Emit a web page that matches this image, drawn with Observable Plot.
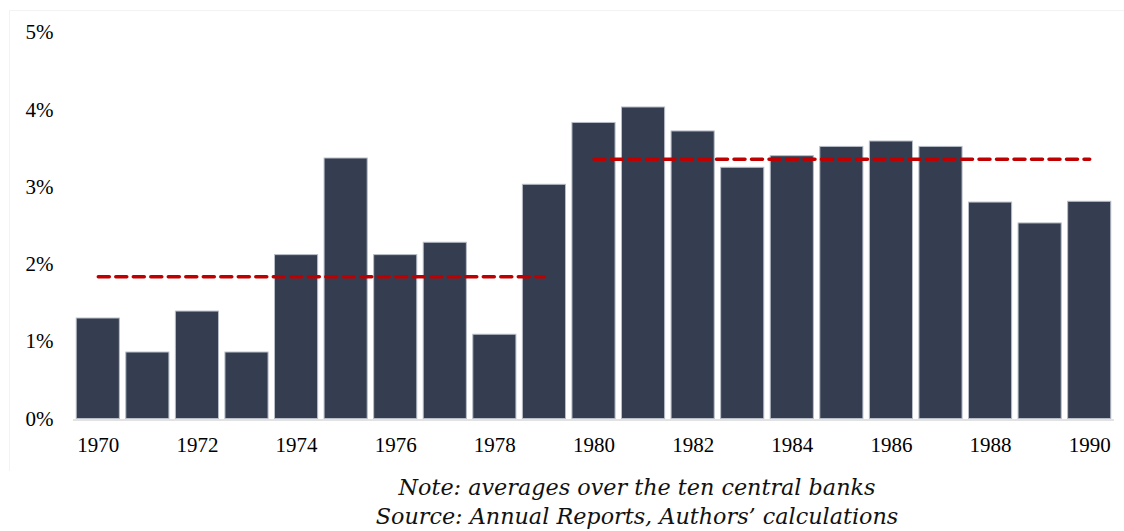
<!DOCTYPE html>
<html>
<head>
<meta charset="utf-8">
<script src="https://cdn.jsdelivr.net/npm/d3@7"></script>
<script src="https://cdn.jsdelivr.net/npm/@observablehq/plot@0.6"></script>
<style>
  html, body { margin: 0; padding: 0; background: #ffffff; }
  #wrap { position: relative; width: 1124px; height: 531px; overflow: hidden; }
  #frame { position: absolute; left: 9px; top: 10px; width: 1115px; height: 461px;
           border-top: 1px solid #f3f3f3; border-left: 1px solid #f3f3f3; box-sizing: border-box; }
  #chart { position: absolute; left: 0; top: 0; }
  #caption { position: absolute; left: 287px; top: 473px; width: 700px; text-align: center;
             font-family: "DejaVu Serif", serif; font-style: italic; font-size: 22.3px;
             line-height: 29px; color: #111; white-space: nowrap; }
</style>
</head>
<body>
<div id="wrap">
  <div id="frame"></div>
  <div id="chart"></div>
  <div id="caption">
    <div>Note: averages over the ten central banks</div>
    <div>Source: Annual Reports, Authors’ calculations</div>
  </div>
</div>
<script>
// Years (categories)
const years = [1970, 1971, 1972, 1973, 1974, 1975, 1976, 1977, 1978, 1979, 1980,
               1981, 1982, 1983, 1984, 1985, 1986, 1987, 1988, 1989, 1990];
// Values (percent)
const rates = [1.30, 0.86, 1.39, 0.86, 2.12, 3.37, 2.12, 2.28, 1.09, 3.03, 3.83,
               4.03, 3.72, 3.25, 3.40, 3.52, 3.59, 3.52, 2.80, 2.53, 2.81];
// Period averages (dashed lines)
const periodNames = ["1970s", "1980s"];
const periodStart = [1970, 1980];
const periodEnd = [1979, 1990];
const periodAvg = [1.84, 3.36];
// Tick labels
const xTickYears = [1970, 1972, 1974, 1976, 1978, 1980, 1982, 1984, 1986, 1988, 1990];
const yTicks = [0, 1, 2, 3, 4, 5];

const bars = years.map((y, i) => ({year: y, rate: rates[i]}));
const avgLines = periodNames.flatMap((p, i) => [
  {period: p, year: periodStart[i], v: periodAvg[i]},
  {period: p, year: periodEnd[i], v: periodAvg[i]}
]);

const chart = Plot.plot({
  width: 1124,
  height: 460,
  marginTop: 32,
  marginBottom: 41.5,
  marginLeft: 73,
  marginRight: 10,
  style: {fontFamily: "'Liberation Serif', 'Times New Roman', serif", fontSize: "21px", color: "#000", background: "transparent", overflow: "visible"},
  x: {type: "band", domain: years, paddingInner: 0.13, paddingOuter: 0.065, round: false,
      ticks: xTickYears, tickSize: 0, tickPadding: 18, tickFormat: d => String(d), label: null},
  y: {domain: [0, 5], ticks: yTicks, tickSize: 0, tickPadding: 20, tickFormat: d => d + "%", label: null},
  marks: [
    Plot.ruleY([0], {stroke: "#e2e2e2", strokeWidth: 2, dy: 1}),
    Plot.barY(bars, {x: "year", y: "rate", fill: "#343e50", stroke: "#b8bec8", strokeWidth: 1}),
    Plot.lineY(avgLines, {x: "year", y: "v", z: "period", stroke: "#c00000", strokeWidth: 3.5, strokeDasharray: "11,6.5"})
  ]
});
document.getElementById("chart").appendChild(chart);
</script>
</body>
</html>
